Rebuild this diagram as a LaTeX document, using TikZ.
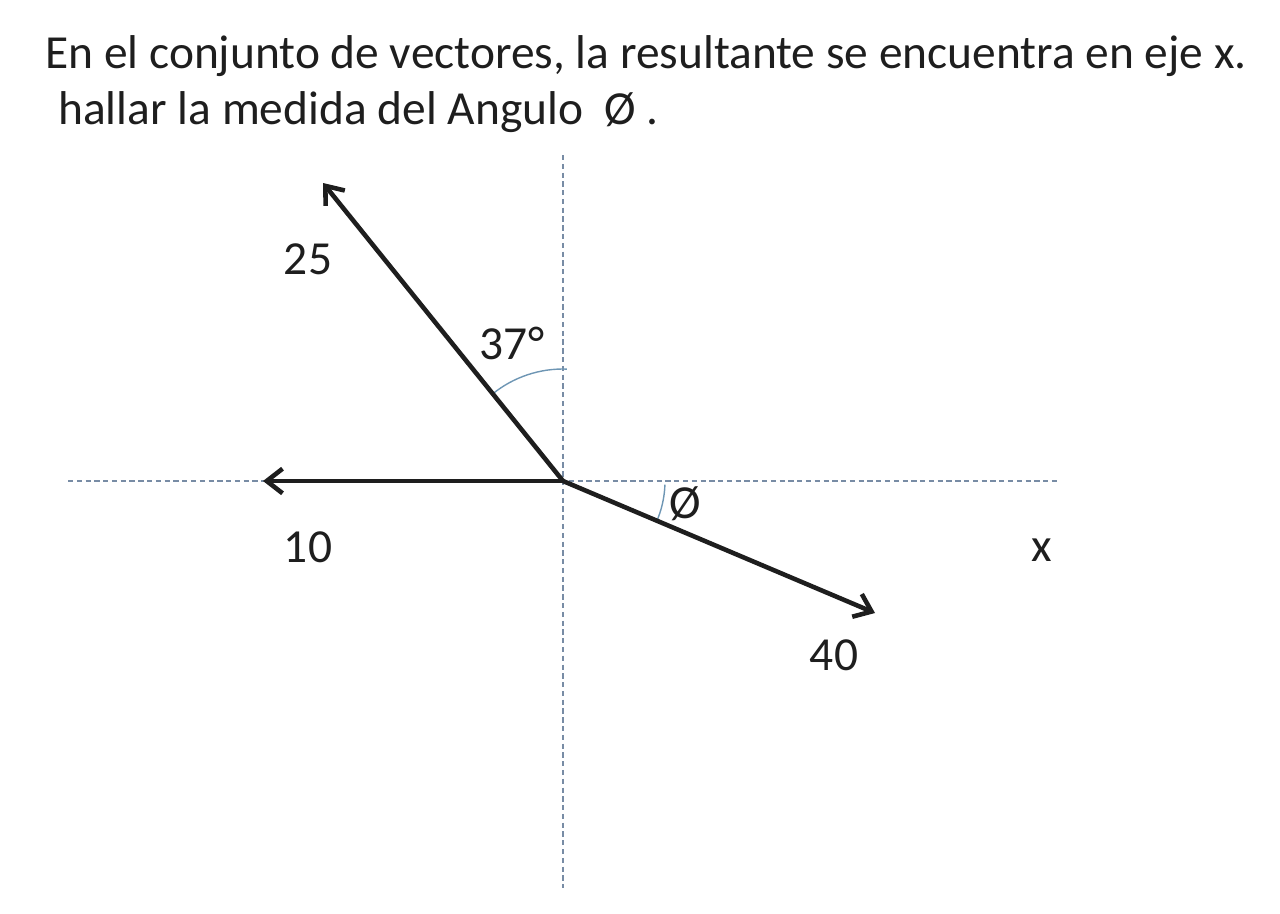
\documentclass[tikz,border=0pt]{standalone}
\usepackage{fontspec}
\setmainfont{Carlito}
\usetikzlibrary{arrows.meta}
\definecolor{axisgray}{RGB}{120,140,165}
\definecolor{arcblue}{RGB}{110,150,180}
\definecolor{inkgray}{RGB}{30,30,30}
\begin{document}
\begin{tikzpicture}[x=0.02cm, y=-0.02cm,
	axis/.style={axisgray, dashed, line width=0.6pt, dash pattern=on 3pt off 2pt},
	vec/.style={-{Straight Barb[length=9pt, width=14pt]}, line width=2.6pt, inkgray},
	ang/.style={arcblue, line width=0.8pt},
	lbl/.style={font=\fontsize{27}{30}\selectfont, text=inkgray},
	head/.style={font=\fontsize{27}{30}\selectfont, text=inkgray, anchor=base west, inner sep=0pt}]
	\useasboundingbox (0,0) rectangle (1280,913);
	\node[head] (line1) at (45,68) {En el conjunto de vectores, la resultante se encuentra en eje x.};
	\node[head] (line2) at (58,124) {hallar la medida del Angulo\ \ Ø .};
	\coordinate (o) at (563,481);
	\coordinate (ytop) at (563,155);
	\coordinate (ybot) at (563,888);
	\coordinate (xl) at (68,481);
	\coordinate (xr) at (1057,481);
	\coordinate (t25) at (323,183);
	\coordinate (t10) at (263,481);
	\coordinate (t40) at (875,613);
	\draw[axis] (ytop) -- (ybot);
	\draw[axis] (xl) -- (xr);
	\draw[ang] (o) ++(-128.8:112) arc (-128.8:-88:112);
	\draw[ang] (o) ++(2:102) arc (2:24:102);
	\draw[vec] (o) -- (t25);
	\draw[vec] (o) -- (t10);
	\draw[vec] (o) -- (t40);
	\node[lbl] (n25) at (308,259) {25};
	\node[lbl] (n37) at (512,343) {37°};
	\node[lbl] (nphi) at (685,504) {Ø};
	\node[lbl] (n10) at (308,547) {10};
	\node[lbl] (nx) at (1042,550) {x};
	\node[lbl] (n40) at (834,655) {40};
\end{tikzpicture}
\end{document}
